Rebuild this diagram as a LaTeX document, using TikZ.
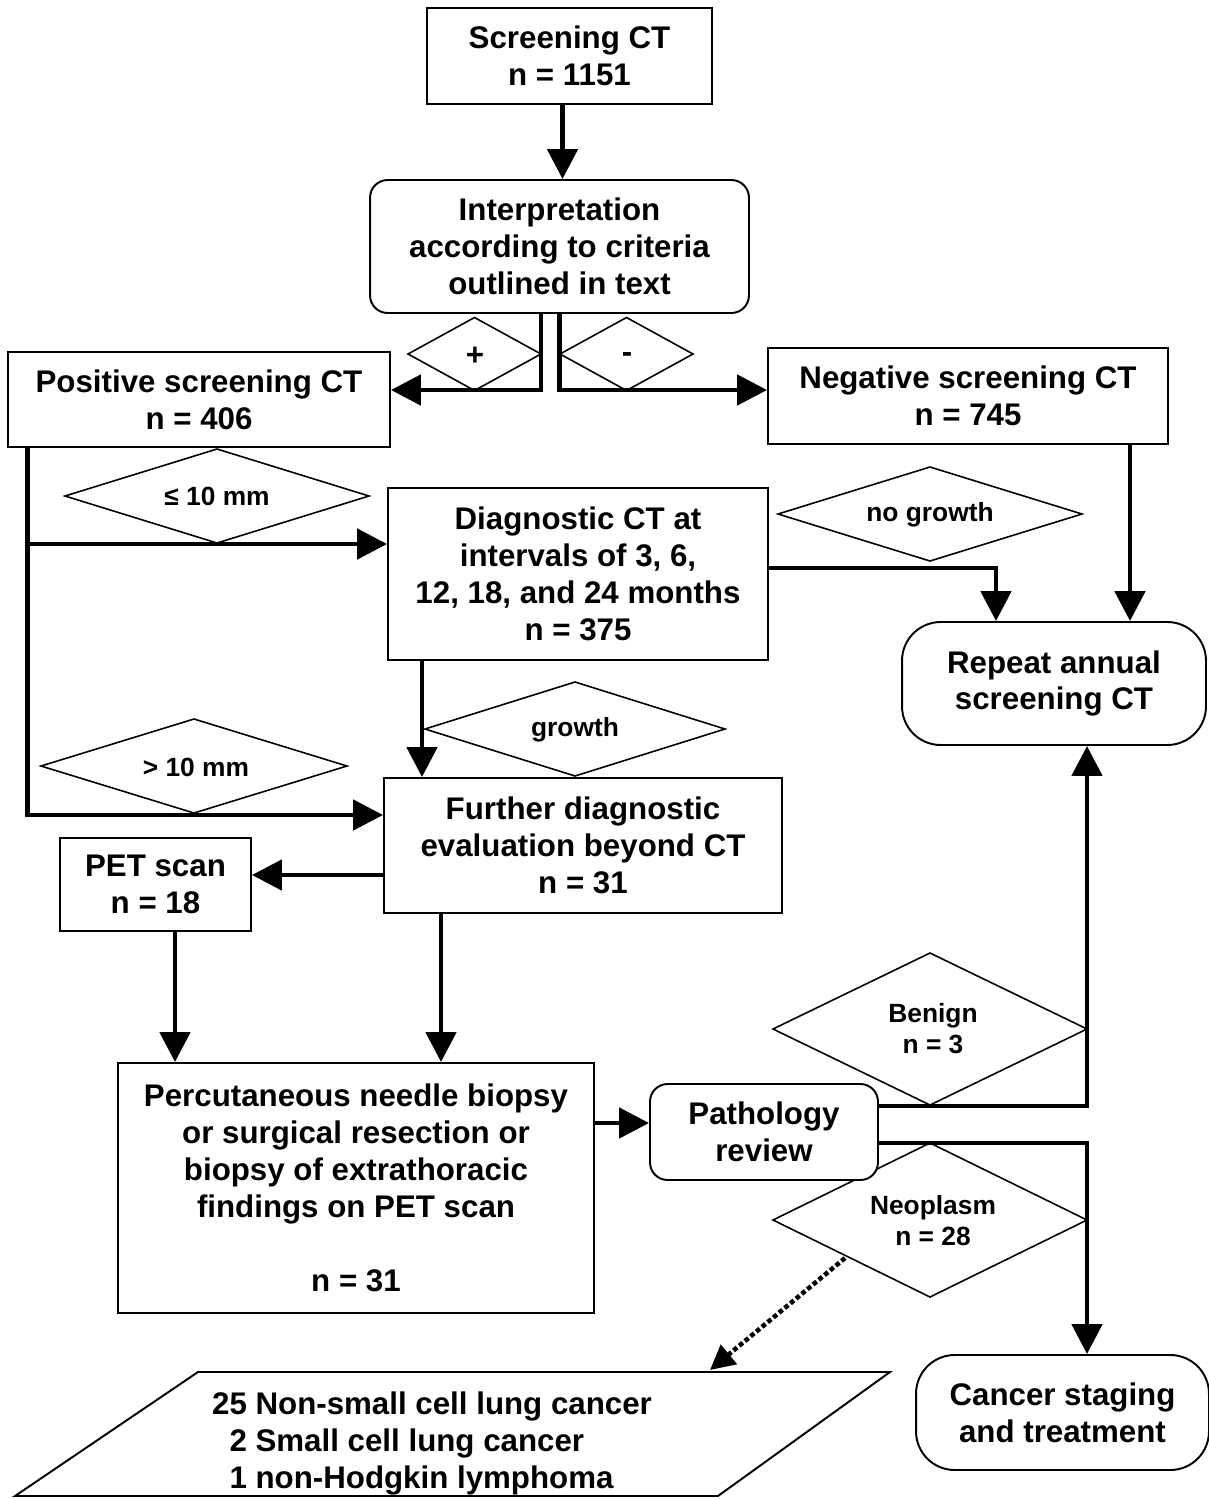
\documentclass[tikz,border=0pt]{standalone}
\usepackage{fontspec}
\setmainfont{Liberation Sans}
\usetikzlibrary{arrows.meta,calc}
\newcommand\mydiamond[4]{\draw[dia] ({#1-#3},#2) -- (#1,{#2-#4}) -- ({#1+#3},#2) -- (#1,{#2+#4}) -- cycle;}
\begin{document}
\begin{tikzpicture}[x=0.02cm,y=-0.02cm,
 every node/.style={font=\bfseries\fontsize{17.8}{21}\selectfont, align=center, inner sep=0pt},
 box/.style={draw, line width=1.1pt, rectangle, fill=white},
 rbox/.style={box, rounded corners=10pt},
 bigr/.style={box, rounded corners=22pt},
 lbl/.style={font=\bfseries\fontsize{15}{17.6}\selectfont},
 dia/.style={line width=0.9pt},
 arr/.style={line width=2.8pt, -{Triangle[length=17pt,width=17pt]}},
 dotarr/.style={line width=2.6pt, dash pattern=on 2.6pt off 1.6pt, -{Triangle[length=14pt,width=14pt]}}]

\useasboundingbox (0,0) rectangle (1209,1499);

% diamonds (drawn first)
\mydiamond{474.5}{354}{66.5}{36.5}
\mydiamond{626.5}{354}{66.5}{36.5}
\mydiamond{217}{496}{152}{47}
\mydiamond{930}{514}{152}{47}
\mydiamond{575}{729}{150}{47}
\mydiamond{194}{766}{153}{47}
\mydiamond{930}{1029}{157}{76}
\mydiamond{930}{1220}{157}{77}

\node (lplus) at (475,356) {+};
\node (lminus) at (627,358) {-};
\node[lbl] (lle) at (217,496) {≤ 10 mm};
\node[lbl] (lng) at (930,515) {no growth};
\node[lbl] (lgr) at (575,730) {growth};
\node[lbl] (lgt) at (196,767) {> 10 mm};
\node[lbl] (lben) at (933,1029) {Benign\\n = 3};
\node[lbl] (lneo) at (933,1221) {Neoplasm\\n = 28};

% boxes
\node[box, minimum width=5.70cm, minimum height=1.92cm] (sct) at (569.5,56) {Screening CT\\n = 1151};
\node[rbox, minimum width=7.58cm, minimum height=2.66cm] (interp) at (559.5,246.5) {Interpretation\\according to criteria\\outlined in text};
\node[box, minimum width=7.64cm, minimum height=1.90cm] (pos) at (199,399.5) {Positive screening CT\\n = 406};
\node[box, minimum width=8.00cm, minimum height=1.92cm] (neg) at (968,396) {Negative screening CT\\n = 745};
\node[box, minimum width=7.60cm, minimum height=3.44cm] (diag) at (578,574) {Diagnostic CT at\\intervals of 3, 6,\\12, 18, and 24 months\\n = 375};
\node[box, minimum width=7.96cm, minimum height=2.70cm] (further) at (583,845.5) {Further diagnostic\\evaluation beyond CT\\n = 31};
\node[bigr, minimum width=6.08cm, minimum height=2.46cm] (repeat) at (1054,683.5) {Repeat annual\\screening CT};
\node[box, minimum width=3.82cm, minimum height=1.86cm] (pet) at (155.5,884.5) {PET scan\\n = 18};
\node[box, minimum width=9.52cm, minimum height=5.00cm] (perc) at (356,1188) {Percutaneous needle biopsy\\or surgical resection or\\biopsy of extrathoracic\\findings on PET scan\\[21pt]n = 31};
\node[rbox, minimum width=4.56cm, minimum height=1.92cm] (path) at (764,1132) {Pathology\\review};
\node[bigr, minimum width=5.86cm, minimum height=2.30cm] (cancer) at (1062.5,1412.5) {Cancer staging\\and treatment};

% parallelogram
\coordinate (pBL) at (15,1496);
\coordinate (pTL) at (198,1372);
\coordinate (pTR) at (890,1372);
\coordinate (pBR) at (718,1496);
\draw[line width=1.1pt] (pBL) -- (pTL) -- (pTR) -- (pBR) -- cycle;
\node (plist) at (432,1444) {\begin{tabular}{@{}r@{ }l@{}}25 & Non-small cell lung cancer\\ 2 & Small cell lung cancer\\ 1 & non-Hodgkin lymphoma\end{tabular}};

% connectors
\coordinate (c1) at ($(sct.south)+(-7,0)$);
\draw[arr] (c1) -- (c1 |- interp.north);
\coordinate (c2) at ($(interp.south)+(-18.5,0)$);
\draw[arr] (c2) |- ($(pos.east)+(0,-9.5)$);
\draw[arr] (interp.south) |- ($(neg.west)+(0,-6)$);
\coordinate (c4) at ($(pos.south west)+(20,0)$);
\draw[arr] (c4) |- ($(diag.west)+(0,-30)$);
\draw[arr] (c4) |- ($(further.west)+(0,-30.5)$);
\coordinate (c5) at ($(diag.south)+(-156,0)$);
\draw[arr] (c5) -- (c5 |- further.north);
\draw[arr] ($(diag.east)+(0,-6)$) -| ($(repeat.north)+(-58,0)$);
\coordinate (c6) at ($(neg.south)+(162,0)$);
\draw[arr] (c6) -- (c6 |- repeat.north);
\coordinate (c7) at ($(further.west)+(0,29.5)$);
\draw[arr] (c7) -- (c7 -| pet.east);
\coordinate (c8) at ($(pet.south)+(19.5,0)$);
\draw[arr] (c8) -- (c8 |- perc.north);
\coordinate (c9) at ($(further.south)+(-142,0)$);
\draw[arr] (c9) -- (c9 |- perc.north);
\coordinate (c10) at ($(path.west)+(0,-9)$);
\draw[arr] (c10 -| perc.east) -- (c10);
\draw[arr] ($(path.east)+(0,-26)$) -| ($(repeat.south)+(33,0)$);
\draw[arr] ($(path.east)+(0,11)$) -| ($(cancer.north)+(24.5,0)$);
\coordinate (d1) at (845,1258);
\coordinate (d2) at (710,1370);
\draw[dotarr] (d1) -- (d2);
\end{tikzpicture}
\end{document}
